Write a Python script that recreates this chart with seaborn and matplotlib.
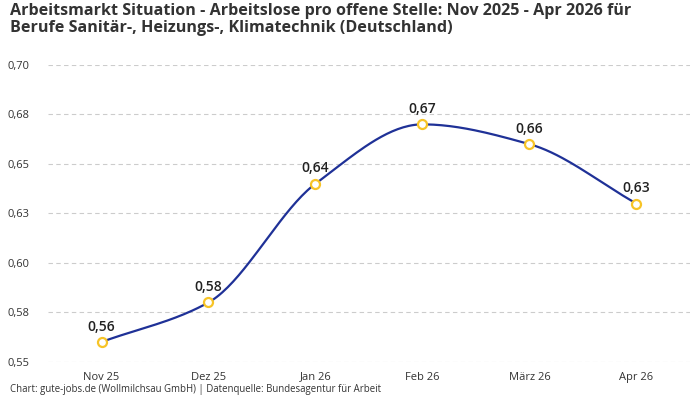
import numpy as np
import pandas as pd
import seaborn as sns
import matplotlib.pyplot as plt

# ================= DATA =================
months = ["Nov 25", "Dez 25", "Jan 26", "Feb 26", "März 26", "Apr 26"]
values = [0.56, 0.58, 0.64, 0.67, 0.66, 0.63]
y_ticks = [0.55, 0.575, 0.60, 0.625, 0.65, 0.675, 0.70]
y_tick_labels = ["0,55", "0,58", "0,60", "0,63", "0,65", "0,68", "0,70"]

title = ("Arbeitsmarkt Situation - Arbeitslose pro offene Stelle: Nov 2025 - Apr 2026 für\n"
         "Berufe Sanitär-, Heizungs-, Klimatechnik (Deutschland)")
footer = "Chart: gute-jobs.de (Wollmilchsau GmbH) | Datenquelle: Bundesagentur für Arbeit"

LINE_COLOR = "#1f3197"
POINT_COLOR = "#f7c427"


# monotone cubic (Fritsch-Carlson) for the smooth line
def monotone_curve(x, y, n=40):
    x = np.asarray(x, float)
    y = np.asarray(y, float)
    h = np.diff(x)
    d = np.diff(y) / h
    m = np.zeros_like(y)
    m[0], m[-1] = d[0], d[-1]
    for i in range(1, len(y) - 1):
        if d[i - 1] * d[i] <= 0:
            m[i] = 0
        else:
            w1 = 2 * h[i] + h[i - 1]
            w2 = h[i] + 2 * h[i - 1]
            m[i] = (w1 + w2) / (w1 / d[i - 1] + w2 / d[i])
    xs, ys = [], []
    for i in range(len(x) - 1):
        t = np.linspace(0, 1, n)
        h00 = 2 * t**3 - 3 * t**2 + 1
        h10 = t**3 - 2 * t**2 + t
        h01 = -2 * t**3 + 3 * t**2
        h11 = t**3 - t**2
        xs.append(x[i] + t * h[i])
        ys.append(h00 * y[i] + h10 * h[i] * m[i] + h01 * y[i + 1] + h11 * h[i] * m[i + 1])
    return np.concatenate(xs), np.concatenate(ys)


df = pd.DataFrame({"pos": np.arange(len(months)), "value": values})
cx, cy = monotone_curve(df["pos"], df["value"])
curve = pd.DataFrame({"pos": cx, "value": cy})

# ================= PLOT =================
sns.set_theme(style="white")
plt.rcParams["font.family"] = ["Open Sans", "DejaVu Sans"]

fig = plt.figure(figsize=(7, 4), dpi=100)
ax = fig.add_axes([0.0686, 0.0955, 0.917, 0.742])

sns.lineplot(data=curve, x="pos", y="value", color=LINE_COLOR, linewidth=1.6,
             ax=ax, zorder=3, estimator=None, sort=False)
sns.scatterplot(data=df, x="pos", y="value", s=42, color="white",
                edgecolor=POINT_COLOR, linewidth=1.6, ax=ax, zorder=4)

for p, v in zip(df["pos"], df["value"]):
    ax.annotate(f"{v:.2f}".replace(".", ","), (p, v), xytext=(0, 6),
                textcoords="offset points", ha="center", va="bottom",
                fontsize=10, color="#222222", fontweight="semibold")

ax.set_xlim(-0.5, len(months) - 0.5)
ax.set_ylim(0.55, 0.70)
ax.set_xticks(df["pos"], months)
ax.set_yticks(y_ticks, y_tick_labels)
ax.set_xlabel("")
ax.set_ylabel("")
ax.grid(axis="y", linestyle=(0, (4, 3)), color="#cccccc", linewidth=0.8)
ax.tick_params(axis="both", length=0, labelsize=8, labelcolor="#333333")
ax.tick_params(axis="y", pad=13)
ax.tick_params(axis="x", pad=7)
sns.despine(ax=ax, left=True, bottom=True)

fig.text(0.014, 0.993, title, ha="left", va="top", fontsize=11.6,
         fontweight="bold", color="#333333", linespacing=1.1)
fig.text(0.014, 0.012, footer, ha="left", va="bottom", fontsize=6.9, color="#333333")

fig.savefig("out.png", dpi=100)
